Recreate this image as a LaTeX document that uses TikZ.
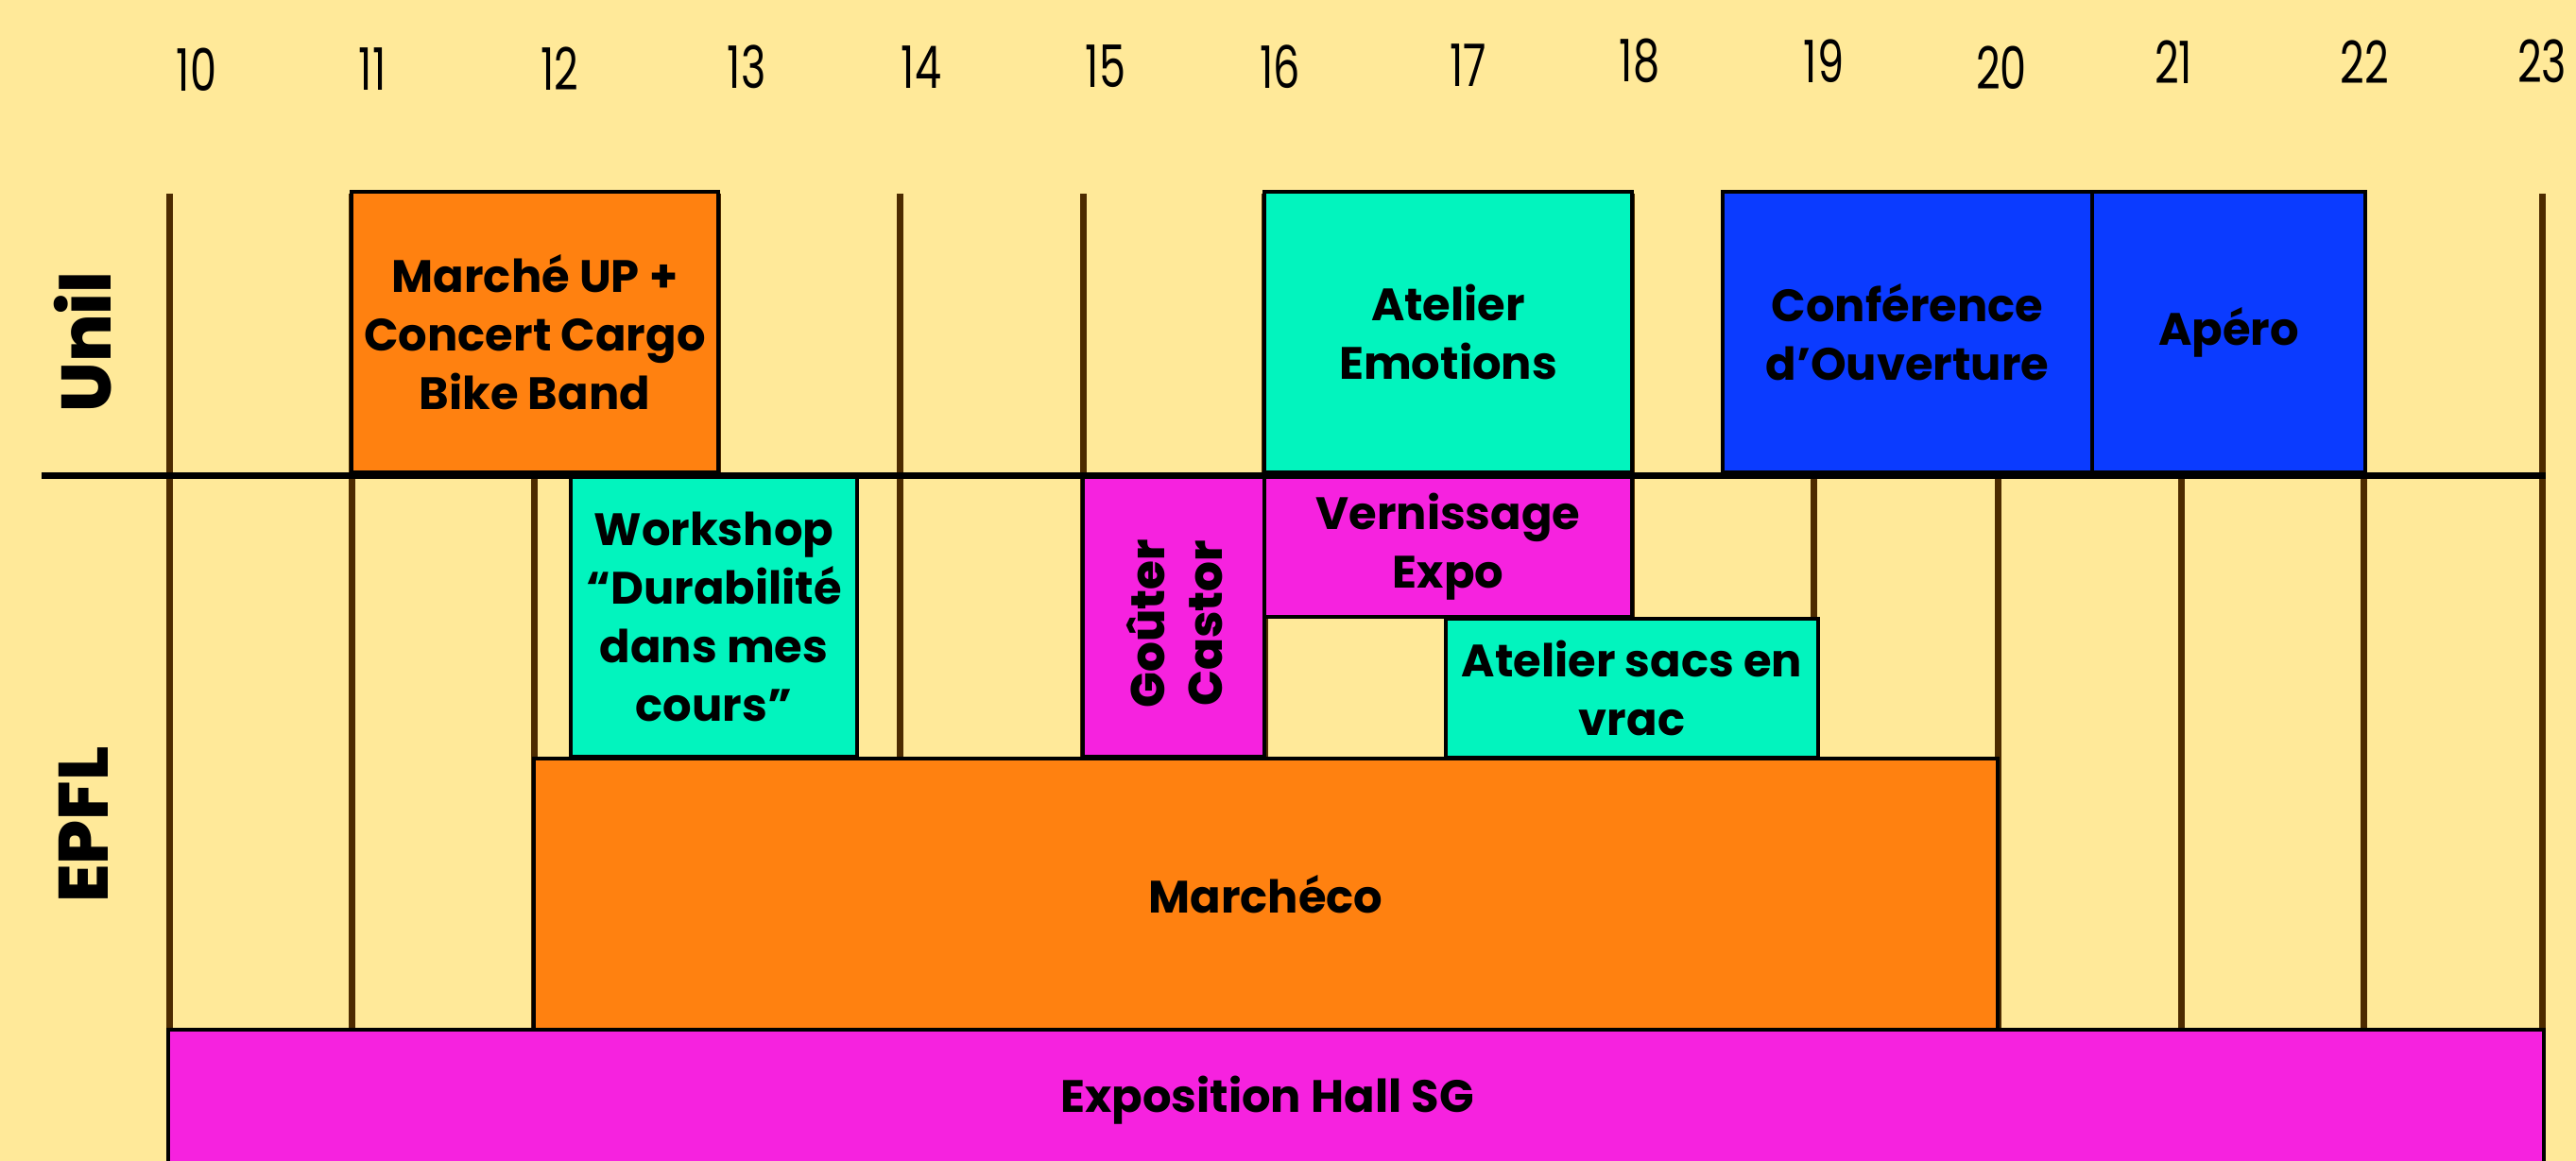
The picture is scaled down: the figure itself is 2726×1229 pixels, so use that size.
\documentclass[tikz,border=0pt]{standalone}
\usepackage{fontspec}
\setmainfont{Poppins}
\newfontfamily\numfont{Poppins}
\IfFontExistsTF{Poppins ExtraBold}{\newfontfamily\heavyfont{Poppins ExtraBold}}{\newfontfamily\heavyfont{Poppins}[UprightFont=*-Bold]}
\newfontfamily\evfont{Poppins}
\definecolor{bg}{HTML}{FFE999}
\definecolor{gridc}{HTML}{4D2B00}
\definecolor{orng}{HTML}{FF8110}
\definecolor{mint}{HTML}{02F4BE}
\definecolor{blu}{HTML}{0B3BFF}
\definecolor{mag}{HTML}{F622DF}
\tikzset{
  evt/.style={draw=black, line width=4pt, inner sep=0pt, outer sep=0pt, align=center,
    font=\evfont\bfseries\fontsize{48}{62}\selectfont},
  gridline/.style={draw=gridc, line width=7pt},
  hourlbl/.style={anchor=base, inner sep=0pt, font=\numfont\fontsize{62}{62}\selectfont},
  rowlbl/.style={rotate=90, inner sep=0pt, font=\heavyfont\fontsize{74}{74}\selectfont},
}
\newcommand\evbox[7]{%
  \pgfmathsetmacro\bw{#4-#2}\pgfmathsetmacro\bh{#5-#3}%
  \node[evt, fill=#6, minimum width=\bw pt, minimum height=\bh pt] (#1) at ({(#2+#4)/2},{(#3+#5)/2}) {#7};}
\begin{document}
\begin{tikzpicture}[x=1pt,y=-1pt]
\useasboundingbox (0,0) rectangle (2726,1229);
\clip (0,0) rectangle (2726,1229);
\fill[bg] (0,0) rectangle (2726,1229);
% hour grid
\foreach \x in {179.5,372,565,759,952,1146,1338,1532,1726,1919,2114,2308,2501,2690}
  \draw[gridline] (\x,205) -- (\x,1090);
% hour labels
\foreach \n/\x/\y in {10/208/96,11/394/95,12/592/95,13/790/93,14/975/93,15/1170/92,16/1355/93,17/1554/91,18/1735/86,19/1930/87,20/2118/94,21/2300/88,22/2502/88,23/2690/87}
  \node[hourlbl] (h\n) at (\x,\y) {\scalebox{0.72}[1]{\n}};
% row labels
\node[rowlbl] (unil) at (88,362) {Unil};
\node[rowlbl] (epfl) at (88,873) {EPFL};
% Unil events
\evbox{marche}{372}{203}{760}{500}{orng}{Marché UP +\\Concert Cargo\\Bike Band}
\evbox{emotions}{1338}{203}{1727}{500}{mint}{Atelier\\Emotions}
\evbox{conf}{1823}{203}{2214}{500}{blu}{Conférence\\d’Ouverture}
\evbox{apero}{2214}{203}{2503}{500}{blu}{Apéro}
% EPFL events
\evbox{workshop}{604}{504}{907}{801}{mint}{Workshop\\“Durabilité\\dans mes\\cours”}
\evbox{gouter}{1146}{504}{1338}{801}{mag}{}
\node[rotate=90, inner sep=0pt, align=center, font=\heavyfont\fontsize{50}{61}\selectfont] (gouterlbl) at (1243,660) {Goûter\\Castor};
\evbox{vern}{1338}{504}{1727}{653}{mag}{Vernissage\\Expo}
\evbox{sacs}{1530}{655}{1924}{802}{mint}{Atelier sacs en\\vrac}
\evbox{marcheco}{565}{803}{2114}{1090}{orng}{Marchéco}
\evbox{expo}{178}{1090}{2692}{1260}{mag}{}
\node[inner sep=0pt, font=\evfont\bfseries\fontsize{48}{62}\selectfont] (expolbl) at (1341,1165) {Exposition Hall SG};
% separator
\draw[line width=7pt] (44,503.5) coordinate (sepL) -- (2694,503.5) coordinate (sepR);
\end{tikzpicture}
\end{document}
